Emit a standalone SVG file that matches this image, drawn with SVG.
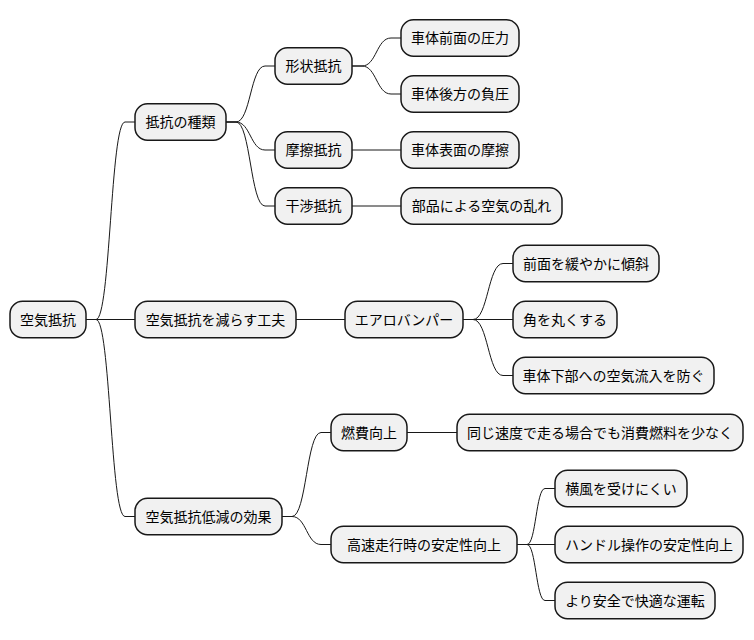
<svg xmlns="http://www.w3.org/2000/svg" width="754" height="640" viewBox="0 0 754 640">
<style>
.n rect{fill:#F1F1F1;stroke:#181818;stroke-width:1.5}
.n text{font-family:"Noto Sans CJK JP","Noto Sans",sans-serif;font-size:14px;fill:#000;text-anchor:middle}
.c path{fill:none;stroke:#181818;stroke-width:1}
</style>
<rect width="754" height="640" fill="#FFFFFF"/>
<g class="c" id="connectors">
<path d="M86 319.5 L96 319.5 C110.5 319.5 110.5 122 125 122 L135 122"/>
<path d="M86 319.5 L135 319.5"/>
<path d="M86 319.5 L96 319.5 C110.5 319.5 110.5 516.5 125 516.5 L135 516.5"/>
<path d="M226 122 L236 122 C250.5 122 250.5 66 265 66 L275 66"/>
<path d="M226 122 L236 122 C250.5 122 250.5 150 265 150 L275 150"/>
<path d="M226 122 L236 122 C250.5 122 250.5 206 265 206 L275 206"/>
<path d="M352 66 L362 66 C376.5 66 376.5 38 391 38 L401 38"/>
<path d="M352 66 L362 66 C376.5 66 376.5 94 391 94 L401 94"/>
<path d="M352 150 L401 150"/>
<path d="M352 206 L401 206"/>
<path d="M296 319.5 L345 319.5"/>
<path d="M463 319.5 L473 319.5 C488 319.5 488 263.5 503 263.5 L513 263.5"/>
<path d="M463 319.5 L513 319.5"/>
<path d="M463 319.5 L473 319.5 C488 319.5 488 375.5 503 375.5 L513 375.5"/>
<path d="M282 516.5 L292 516.5 C306.5 516.5 306.5 432.5 321 432.5 L331 432.5"/>
<path d="M282 516.5 L292 516.5 C306.5 516.5 306.5 544.5 321 544.5 L331 544.5"/>
<path d="M407 432.5 L457 432.5"/>
<path d="M517 544.5 L527 544.5 C536 544.5 536 488.5 545 488.5 L555 488.5"/>
<path d="M517 544.5 L555 544.5"/>
<path d="M517 544.5 L527 544.5 C536 544.5 536 600.5 545 600.5 L555 600.5"/>
</g>
<g class="n" id="n-root"><rect x="10" y="301.25" width="76" height="36.5" rx="12.5"/><text x="48" y="324.5">空気抵抗</text></g>
<g class="n" id="n-types"><rect x="135" y="103.75" width="91" height="36.5" rx="12.5"/><text x="180.5" y="127">抵抗の種類</text></g>
<g class="n" id="n-shape"><rect x="275" y="47.75" width="77" height="36.5" rx="12.5"/><text x="313.5" y="71">形状抵抗</text></g>
<g class="n" id="n-front"><rect x="401" y="19.75" width="118" height="36.5" rx="12.5"/><text x="460" y="43">車体前面の圧力</text></g>
<g class="n" id="n-rear"><rect x="401" y="75.75" width="118" height="36.5" rx="12.5"/><text x="460" y="99">車体後方の負圧</text></g>
<g class="n" id="n-friction"><rect x="275" y="131.75" width="77" height="36.5" rx="12.5"/><text x="313.5" y="155">摩擦抵抗</text></g>
<g class="n" id="n-surface"><rect x="401" y="131.75" width="118" height="36.5" rx="12.5"/><text x="460" y="155">車体表面の摩擦</text></g>
<g class="n" id="n-interf"><rect x="275" y="187.75" width="77" height="36.5" rx="12.5"/><text x="313.5" y="211">干渉抵抗</text></g>
<g class="n" id="n-parts"><rect x="401" y="187.75" width="161" height="36.5" rx="12.5"/><text x="481.5" y="211">部品による空気の乱れ</text></g>
<g class="n" id="n-reduce"><rect x="135" y="301.25" width="161" height="36.5" rx="12.5"/><text x="215.5" y="324.5">空気抵抗を減らす工夫</text></g>
<g class="n" id="n-aero"><rect x="345" y="301.25" width="118" height="36.5" rx="12.5"/><text x="404" y="324.5">エアロバンパー</text></g>
<g class="n" id="n-slope"><rect x="513" y="245.25" width="146" height="36.5" rx="12.5"/><text x="586" y="268.5">前面を緩やかに傾斜</text></g>
<g class="n" id="n-round"><rect x="513" y="301.25" width="104" height="36.5" rx="12.5"/><text x="565" y="324.5">角を丸くする</text></g>
<g class="n" id="n-under"><rect x="513" y="357.25" width="201" height="36.5" rx="12.5"/><text x="613.5" y="380.5">車体下部への空気流入を防ぐ</text></g>
<g class="n" id="n-effect"><rect x="135" y="498.25" width="147" height="36.5" rx="12.5"/><text x="208.5" y="521.5">空気抵抗低減の効果</text></g>
<g class="n" id="n-fuel"><rect x="331" y="414.25" width="76" height="36.5" rx="12.5"/><text x="369" y="437.5">燃費向上</text></g>
<g class="n" id="n-fuel2"><rect x="457" y="414.25" width="286" height="36.5" rx="12.5"/><text x="600" y="437.5">同じ速度で走る場合でも消費燃料を少なく</text></g>
<g class="n" id="n-stab"><rect x="331" y="526.25" width="186" height="36.5" rx="12.5"/><text x="424" y="549.5">高速走行時の安定性向上</text></g>
<g class="n" id="n-wind"><rect x="555" y="470.25" width="132" height="36.5" rx="12.5"/><text x="621" y="493.5">横風を受けにくい</text></g>
<g class="n" id="n-handle"><rect x="555" y="526.25" width="188" height="36.5" rx="12.5"/><text x="649" y="549.5">ハンドル操作の安定性向上</text></g>
<g class="n" id="n-safe"><rect x="555" y="582.25" width="160" height="36.5" rx="12.5"/><text x="635" y="605.5">より安全で快適な運転</text></g>
</svg>
